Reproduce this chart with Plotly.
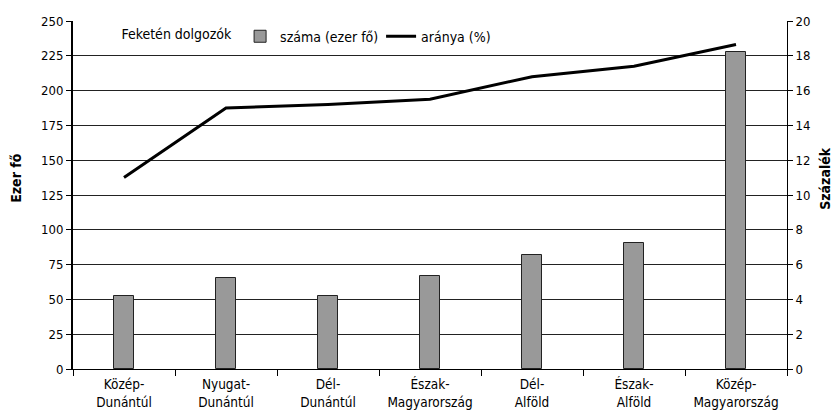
import plotly.graph_objects as go

categories = ["Közép-<br>Dunántúl", "Nyugat-<br>Dunántúl", "Dél-<br>Dunántúl", "Észak-<br>Magyarország",
              "Dél-<br>Alföld", "Észak-<br>Alföld", "Közép-<br>Magyarország"]
szama = [52.7, 65.1, 52.7, 66.8, 82.0, 90.5, 228.0]
aranya = [11.0, 15.0, 15.2, 15.5, 16.8, 17.4, 18.65]

FONT = "DejaVu Sans Condensed, Liberation Sans Narrow, sans-serif"

fig = go.Figure()
fig.add_trace(go.Bar(
    x=categories, y=szama, name="száma (ezer fő)",
    marker=dict(color="#999999", line=dict(color="#222222", width=1)),
    width=0.19, yaxis="y",
))
fig.add_trace(go.Scatter(
    x=categories, y=aranya, name="aránya (%)", mode="lines",
    line=dict(color="black", width=3), yaxis="y2",
))

fig.update_layout(
    width=838, height=420,
    margin=dict(l=73, r=51, t=21, b=51),
    plot_bgcolor="white", paper_bgcolor="white",
    font=dict(family=FONT, size=14, color="black"),
    showlegend=True,
    legend=dict(
        orientation="h", x=0.065, y=0.955, xanchor="left", yanchor="middle",
        title=dict(text="Feketén dolgozók", font=dict(family=FONT, size=14)),
        font=dict(family=FONT, size=14), bgcolor="rgba(255,255,255,0)",
        itemwidth=30, traceorder="normal", entrywidth=96,
    ),
    xaxis=dict(
        type="category", tickson="boundaries", ticks="outside", ticklen=6,
        tickcolor="black", showline=True, linecolor="black", linewidth=1,
        showgrid=False, tickfont=dict(size=13.5), tickangle=0, range=[-0.5, 6.5],
        ticklabelstandoff=3, automargin=False,
    ),
    yaxis=dict(
        range=[0, 250], dtick=25, ticks="outside", ticklen=5, tickcolor="black",
        showline=True, linecolor="black", linewidth=2,
        showgrid=True, gridcolor="#222222", gridwidth=1, zeroline=False,
        tickfont=dict(size=13), automargin=False,
    ),
    yaxis2=dict(
        range=[0, 20], dtick=2, overlaying="y", side="right",
        ticks="outside", ticklen=5, tickcolor="black",
        showline=True, linecolor="black", linewidth=1, showgrid=False, zeroline=False,
        tickfont=dict(size=13), automargin=False,
    ),
    annotations=[
        dict(text="<b>Ezer fő</b>", textangle=-90, xref="paper", yref="paper",
             x=-0.08, y=0.549, xanchor="center", yanchor="middle", showarrow=False,
             font=dict(size=14)),
        dict(text="<b>Százalék</b>", textangle=-90, xref="paper", yref="paper",
             x=1.053, y=0.549, xanchor="center", yanchor="middle", showarrow=False,
             font=dict(size=14)),
    ],
    bargap=0,
)

fig.write_html("out.html", config={"displayModeBar": False},
               post_script="document.body.style.margin='0';")
